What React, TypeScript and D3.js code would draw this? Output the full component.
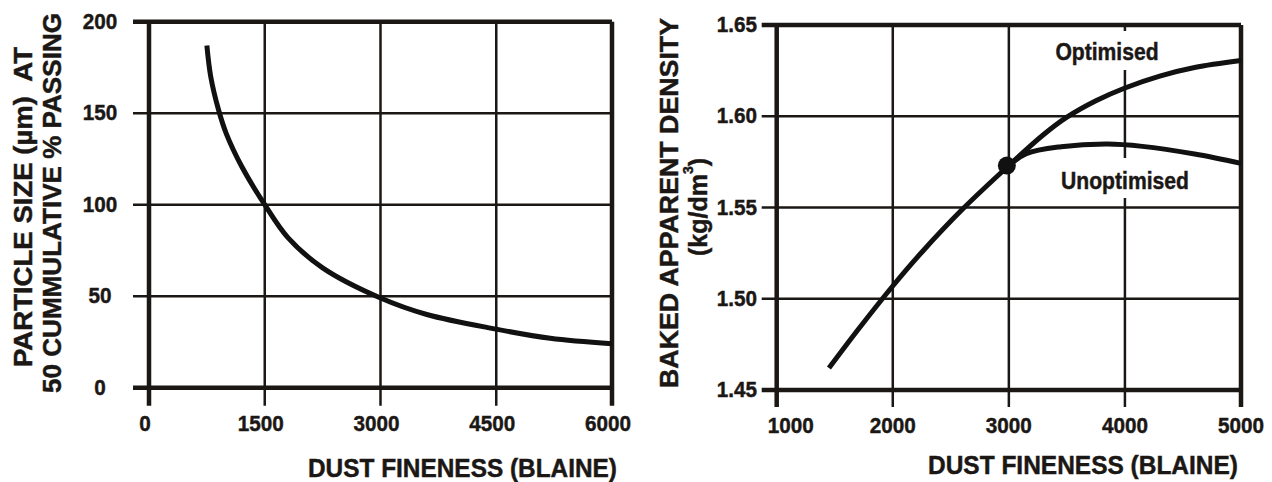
import React from "react";
import * as d3 from "d3";

// ---------- Left chart data ----------
const leftXTicks = [0, 1500, 3000, 4500, 6000];
const leftYTicks = [0, 50, 100, 150, 200];
const leftFineness = [750, 800, 900, 1000, 1200, 1500, 1800, 2250, 3000, 3600, 4500, 5200, 6000];
const leftParticle = [187, 170, 152, 139, 121, 100, 82, 65.5, 49, 40, 32, 27, 24];

// ---------- Right chart data ----------
const rightXTicks = [1000, 2000, 3000, 4000, 5000];
const rightYTicks = [1.45, 1.5, 1.55, 1.6, 1.65];
const baseFineness = [1450, 1700, 2000, 2250, 2600, 3000];
const baseDensity = [1.462, 1.483, 1.507, 1.5255, 1.549, 1.573];
const optFineness = [3300, 3500, 3750, 4000, 4300, 4600, 5000];
const optDensity = [1.590, 1.5995, 1.6085, 1.6155, 1.622, 1.6267, 1.6305];
const unoptFineness = [3150, 3450, 3850, 4150, 4600, 5000];
const unoptDensity = [1.5795, 1.5833, 1.5848, 1.5835, 1.5793, 1.5742];
const markerPoint = { x: 3000, y: 1.573 };

const FONT = "'Liberation Sans', Arial, Helvetica, sans-serif";
const INK = "#1b1715";

type TProps = {
  x: number; y: number; size: number; anchor?: string; sx?: number;
  rotate?: number; len?: number; children: React.ReactNode;
};
const T = ({ x, y, size, anchor = "middle", sx = 1, rotate = 0, len, children }: TProps) => (
  <text
    transform={`translate(${x},${y}) rotate(${rotate}) scale(${sx},1)`}
    fontSize={size}
    fontFamily={FONT}
    fontWeight="bold"
    textAnchor={anchor as any}
    dominantBaseline="central"
    fill={INK}
    stroke={INK}
    strokeWidth={0.45}
    textLength={len}
    lengthAdjust={len ? "spacingAndGlyphs" : undefined}
    style={{ whiteSpace: "pre" }}
  >
    {children}
  </text>
);

function LeftChart() {
  const x = d3.scaleLinear().domain([0, 6000]).range([149, 612]);
  const y = d3.scaleLinear().domain([0, 200]).range([387.7, 21.7]);
  const line = d3
    .line<number>()
    .x((_, i) => x(leftFineness[i]))
    .y((d) => y(d))
    .curve(d3.curveCatmullRom.alpha(0.5));
  const [x0, x1] = x.range();
  const [yb, yt] = y.range();
  return (
    <g>
      {leftYTicks.map((t) => (
        <line key={"h" + t} x1={x0 - 16} x2={x1} y1={y(t)} y2={y(t)} stroke={INK}
          strokeWidth={t === 0 || t === 200 ? 4.5 : 2.5} />
      ))}
      {leftXTicks.map((t) => (
        <line key={"v" + t} x1={x(t)} x2={x(t)} y1={yt} y2={yb + 18} stroke={INK}
          strokeWidth={t === 0 || t === 6000 ? 4.5 : 2.5} />
      ))}
      <path d={line(leftParticle) || ""} fill="none" stroke="#111" strokeWidth={5} />
      {leftYTicks.map((t) => (
        <T key={"yl" + t} x={100} y={y(t)} size={22} sx={0.94}>{String(t)}</T>
      ))}
      {leftXTicks.map((t) => (
        <T key={"xl" + t} x={x(t) - 4} y={424} size={22} sx={0.94}>{String(t)}</T>
      ))}
      <T x={617} y={468} size={25} anchor="end" len={309}>DUST FINENESS (BLAINE)</T>
      <T x={23} y={207} size={25} rotate={-90} len={320}>{"PARTICLE SIZE (\u00b5m)  AT"}</T>
      <T x={52} y={203} size={25} rotate={-90} len={380}>50 CUMMULATIVE % PASSING</T>
    </g>
  );
}

function RightChart() {
  const x = d3.scaleLinear().domain([1000, 5000]).range([776.7, 1241]);
  const y = d3.scaleLinear().domain([1.45, 1.65]).range([390, 25]);
  const [x0, x1] = x.range();
  const [yb, yt] = y.range();
  const mk = (xs: number[]) =>
    d3.line<number>().x((_, i) => x(xs[i])).y((d) => y(d)).curve(d3.curveCatmullRom.alpha(0.5));
  const optXs = [...baseFineness, ...optFineness];
  const optYs = [...baseDensity, ...optDensity];
  const unXs = [markerPoint.x, ...unoptFineness];
  const unYs = [markerPoint.y, ...unoptDensity];
  return (
    <g>
      {rightYTicks.map((t, i) => (
        <line key={"h" + t} x1={x0 - 15} x2={x1} y1={y(t)} y2={y(t)} stroke={INK}
          strokeWidth={i === 0 || i === rightYTicks.length - 1 ? 4.5 : 2.5} />
      ))}
      {rightXTicks.map((t, i) => (
        <line key={"v" + t} x1={x(t)} x2={x(t)} y1={yt} y2={yb + 17} stroke={INK}
          strokeWidth={i === 0 || i === rightXTicks.length - 1 ? 4.5 : 2.5} />
      ))}
      <rect x={1050} y={31} width={115} height={39} fill="#fff" />
      <rect x={1058} y={158} width={134} height={40} fill="#fff" />
      <path d={mk(optXs)(optYs) || ""} fill="none" stroke="#111" strokeWidth={5} />
      <path d={mk(unXs)(unYs) || ""} fill="none" stroke="#111" strokeWidth={5} />
      <circle cx={x(markerPoint.x) - 2} cy={y(markerPoint.y)} r={9} fill="#111" />
      <T x={1107} y={52} size={24} sx={0.88}>Optimised</T>
      <T x={1125} y={181} size={24} sx={0.88}>Unoptimised</T>
      {rightYTicks.map((t) => (
        <T key={"yl" + t} x={757} y={y(t)} size={22} sx={0.94} anchor="end">{t.toFixed(2)}</T>
      ))}
      {rightXTicks.map((t, i) => (
        <T key={"xl" + t} x={i === 0 ? x(t) - 9 : x(t)} y={426} size={22} sx={0.94}
          anchor={i === 0 ? "start" : "middle"}>{String(t)}</T>
      ))}
      <T x={1238} y={465} size={25} anchor="end" len={310}>DUST FINENESS (BLAINE)</T>
      <T x={669} y={203} size={26} rotate={-90} len={370}>BAKED APPARENT DENSITY</T>
      <text transform="translate(698,207) rotate(-90)" fontSize={25} fontFamily={FONT}
        fontWeight="bold" textAnchor="middle" dominantBaseline="central" fill={INK}
        stroke={INK} strokeWidth={0.45}>
        (kg/dm<tspan fontSize={14} dy={-10}>3</tspan><tspan dy={10}>)</tspan>
      </text>
    </g>
  );
}

export default function App() {
  return (
    <svg width={1272} height={482} viewBox="0 0 1272 482"
      style={{ position: "absolute", left: 0, top: 0, background: "#fff" }}>
      <rect width={1272} height={482} fill="#fff" />
      <LeftChart />
      <RightChart />
    </svg>
  );
}
